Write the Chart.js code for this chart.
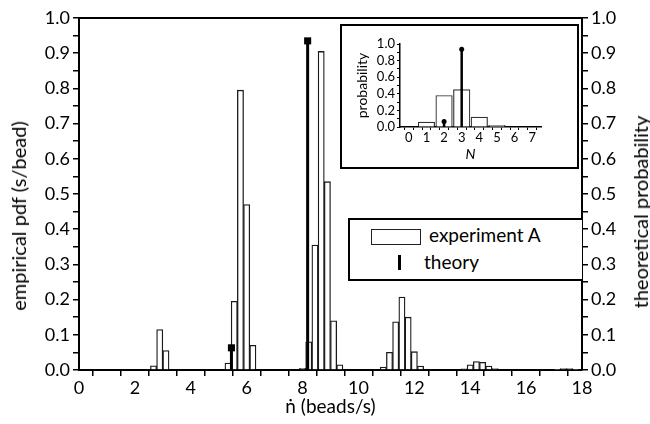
<!DOCTYPE html>
<html>
<head>
<meta charset="utf-8">
<script src="https://cdn.jsdelivr.net/npm/chart.js@4.4.1/dist/chart.umd.min.js"></script>
<style>
    html, body { margin: 0; padding: 0; background: #fff; }
    body { font-family: Lato, "DejaVu Sans", sans-serif; color: #000; }
    #wrap { position: relative; width: 650px; height: 424px; overflow: hidden; }
    #main { position: absolute; left: 0; top: 0; }
    .ytitle { position: absolute; font-size: 20px; white-space: nowrap; transform: translate(-50%, -50%) rotate(-90deg); }
    #insetBox { position: absolute; left: 340px; top: 24px; width: 235px; height: 141px; border: 2px solid #000; background: #fff; }
    #inset { position: absolute; left: 0; top: 0; }
    #legendBox { position: absolute; left: 348px; top: 218px; width: 232px; height: 59px; border: 2px solid #000; border-right: none; background: #fff; }
    .swatch { position: absolute; left: 21px; top: 9px; width: 48px; height: 14px; border: 1.3px solid #222; }
    .stem { position: absolute; left: 48px; top: 35px; width: 3px; height: 15px; background: #000; }
    .ltext { position: absolute; font-size: 19px; white-space: nowrap; }
</style>
</head>
<body>
<div id="wrap">
    <canvas id="main" width="650" height="424"></canvas>
    <div class="ytitle" style="left:18px; top:216px;">empirical pdf (s/bead)</div>
    <div class="ytitle" style="left:640px; top:212px;">theoretical probability</div>
    <div id="insetBox"><canvas id="inset" width="235" height="141"></canvas></div>
    <div id="legendBox">
        <div class="swatch"></div>
        <div class="ltext" style="left:79px; top:3px;">experiment A</div>
        <div class="stem"></div>
        <div class="ltext" style="left:74px; top:30px;">theory</div>
    </div>
</div>
<script>
// ------------------------------
// Data
// ------------------------------
const binCenters = [2.667, 2.889, 3.111,
    5.333, 5.556, 5.778, 6.000, 6.222,
    8.000, 8.222, 8.444, 8.667, 8.889, 9.111, 9.333,
    10.889, 11.111, 11.333, 11.556, 11.778, 12.000, 12.222,
    13.778, 14.000, 14.222, 14.444, 14.667, 14.889,
    17.111, 17.333, 17.556, 17.778];
const empiricalPdf = [0.012, 0.115, 0.055,
    0.020, 0.195, 0.795, 0.470, 0.070,
    0.005, 0.080, 0.355, 0.905, 0.535, 0.140, 0.015,
    0.008, 0.050, 0.137, 0.207, 0.150, 0.052, 0.011,
    0.003, 0.015, 0.024, 0.022, 0.011, 0.004,
    0.002, 0.004, 0.004, 0.002];
const theoryRate = [5.455, 8.182];
const theoryProb = [0.063, 0.935];

const insetN = [1, 2, 3, 4, 5];
const insetProb = [0.06, 0.38, 0.45, 0.12, 0.02];
const insetTheoryN = [2, 3];
const insetTheoryProb = [0.067, 0.936];

const FONT = "Lato, 'DejaVu Sans', sans-serif";

// stems: (x,0) -> (x,p), broken by a null point
function stemPoints(xs, ps) {
    const pts = [];
    xs.forEach((x, i) => {
        pts.push({ x, y: 0 }, { x, y: ps[i] }, { x, y: null });
    });
    return pts;
}

const frameTop = {
    id: "frameTop",
    afterDraw(chart) {
        const { ctx, chartArea: a } = chart;
        ctx.save();
        ctx.strokeStyle = "#000";
        ctx.lineWidth = 2;
        ctx.beginPath();
        ctx.moveTo(a.left, a.top);
        ctx.lineTo(a.right, a.top);
        ctx.stroke();
        ctx.restore();
    }
};

function axisStyle(extra) {
    return Object.assign({
        border: { display: true, color: "#000", width: 2 },
        grid: { drawOnChartArea: false, drawTicks: true, tickLength: 6, color: "#000", lineWidth: 1.5 },
    }, extra);
}

// ------------------------------
// Main chart
// ------------------------------
new Chart(document.getElementById("main"), {
    type: "bar",
    data: {
        datasets: [{
            label: "experiment A",
            data: binCenters.map((x, i) => ({ x, y: empiricalPdf[i] })),
            backgroundColor: "#fff",
            borderColor: "#1a1a1a",
            borderWidth: 1.3,
            categoryPercentage: 1,
            barPercentage: 1,
            yAxisID: "y",
            order: 2
        }, {
            type: "line",
            label: "theory",
            data: stemPoints(theoryRate, theoryProb),
            borderColor: "#000",
            backgroundColor: "#000",
            borderWidth: 3,
            spanGaps: false,
            pointStyle: "rect",
            pointRadius: c => (c.raw && c.raw.y > 0 ? 5 : 0),
            pointBorderWidth: 0,
            yAxisID: "y2",
            order: 1
        }]
    },
    options: {
        responsive: false,
        animation: false,
        layout: { padding: { top: 18, left: 0, right: 0, bottom: 0 } },
        plugins: { legend: { display: false }, tooltip: { enabled: false } },
        scales: {
            x: axisStyle({
                type: "linear",
                min: 0, max: 18,
                offset: false,
                ticks: {
                    stepSize: 1, autoSkip: false, maxRotation: 0, padding: 1,
                    color: "#000", font: { family: FONT, size: 18 },
                    callback: v => (v % 2 === 0 ? String(v) : "")
                },
                title: { display: true, text: "ṅ (beads/s)", color: "#000", font: { family: FONT, size: 19 }, padding: { top: 0, bottom: 6 } },
                afterFit: s => { s.height = 54; }
            }),
            y: axisStyle({
                position: "left",
                min: 0, max: 1,
                ticks: {
                    stepSize: 0.05, autoSkip: false, padding: 3,
                    color: "#000", font: { family: FONT, size: 18 },
                    callback: v => (Math.round(v * 100) % 10 === 0 ? v.toFixed(1) : "")
                },
                afterFit: s => { s.width = 79; }
            }),
            y2: axisStyle({
                position: "right",
                min: 0, max: 1,
                ticks: {
                    stepSize: 0.05, autoSkip: false, padding: 3,
                    color: "#000", font: { family: FONT, size: 18 },
                    callback: v => (Math.round(v * 100) % 10 === 0 ? v.toFixed(1) : "")
                },
                afterFit: s => { s.width = 68; }
            })
        }
    },
    plugins: [frameTop]
});

// ------------------------------
// Inset chart
// ------------------------------
new Chart(document.getElementById("inset"), {
    type: "bar",
    data: {
        datasets: [{
            data: insetN.map((x, i) => ({ x, y: insetProb[i] })),
            backgroundColor: "#fff",
            borderColor: "#333",
            borderWidth: 1.2,
            barThickness: 16.5,
            order: 2
        }, {
            type: "line",
            data: stemPoints(insetTheoryN, insetTheoryProb),
            borderColor: "#000",
            backgroundColor: "#000",
            borderWidth: 2.5,
            spanGaps: false,
            pointStyle: "circle",
            pointRadius: c => (c.raw && c.raw.y > 0 ? 2.5 : 0),
            pointBorderWidth: 0,
            order: 1
        }]
    },
    options: {
        responsive: false,
        animation: false,
        layout: { padding: { top: 18, left: 0, right: 36, bottom: 0 } },
        plugins: { legend: { display: false }, tooltip: { enabled: false } },
        scales: {
            x: {
                type: "linear",
                min: -0.5, max: 7.5,
                offset: false,
                border: { display: true, color: "#000", width: 1.5 },
                grid: { drawOnChartArea: false, tickLength: 3, color: "#000", lineWidth: 1 },
                ticks: {
                    stepSize: 0.5, autoSkip: false, maxRotation: 0, padding: 0,
                    color: "#000", font: { family: FONT, size: 13 },
                    callback: v => (Number.isInteger(v) ? String(v) : "")
                },
                title: { display: true, text: "N", color: "#000", font: { family: FONT, size: 14, style: "italic" }, padding: { top: 0, bottom: 4 } },
                afterFit: s => { s.height = 40; }
            },
            y: {
                min: 0, max: 1,
                border: { display: true, color: "#000", width: 1.5 },
                grid: { drawOnChartArea: false, tickLength: 3, color: "#000", lineWidth: 1 },
                ticks: {
                    stepSize: 0.1, autoSkip: false, padding: 2,
                    color: "#000", font: { family: FONT, size: 13 },
                    callback: v => (Math.round(v * 10) % 2 === 0 ? v.toFixed(1) : "")
                },
                title: { display: true, text: "probability", color: "#000", font: { family: FONT, size: 14 }, padding: { top: 12, bottom: 0 } },
                afterFit: s => { s.width = 58; }
            }
        }
    }
});
</script>
</body>
</html>
